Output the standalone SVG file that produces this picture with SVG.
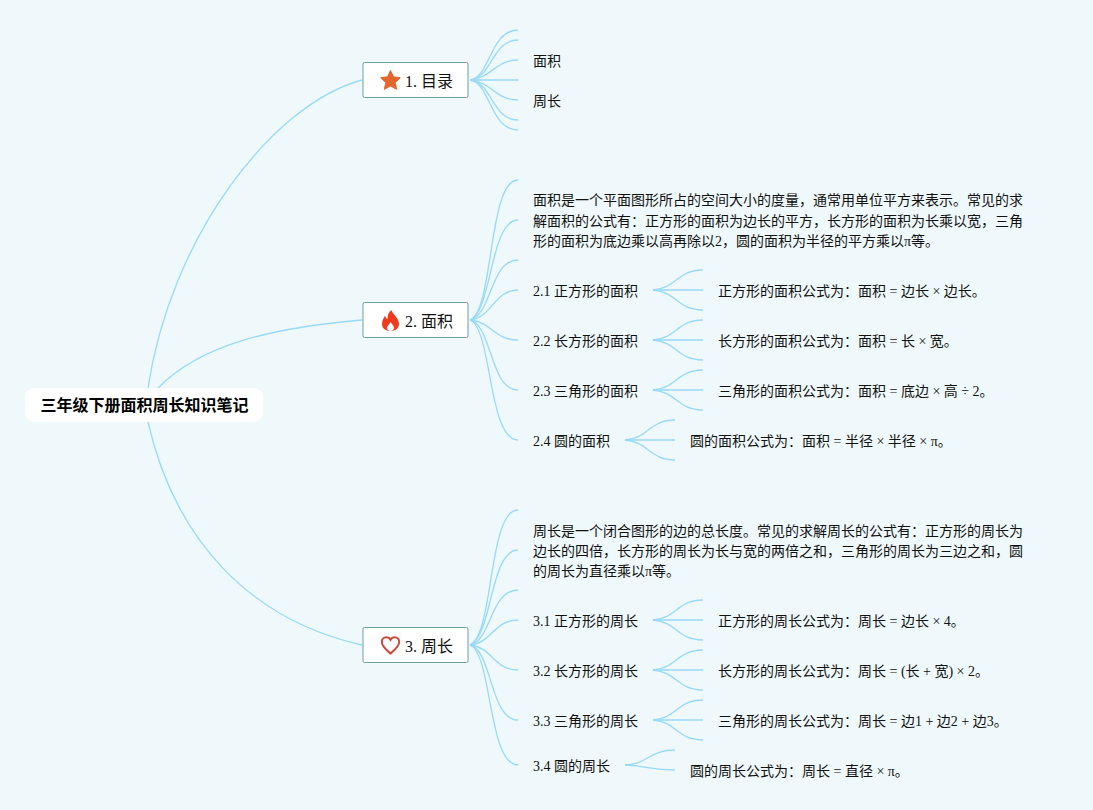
<svg xmlns="http://www.w3.org/2000/svg" width="1093" height="810" viewBox="0 0 1093 810">
<defs>
<style>
text{font-family:"Liberation Serif","Noto Sans CJK SC",serif;font-size:14px;fill:#111}
.t{font-size:16px}
.r{font-family:"Liberation Sans","Noto Sans CJK SC",sans-serif;font-size:16px;font-weight:700;fill:#000}
.c path{fill:none;stroke:#98daf6;stroke-width:1.3}
.box{fill:#fff;stroke:#6f9f9f;stroke-width:1}
</style>
</defs>
<rect width="1093" height="810" fill="#eff8fb"/>
<g id="connectors" class="c">
<path d="M148 388C170 240 270 105 362 80"/>
<path d="M158 388C200 345 270 328 362 320"/>
<path d="M148 422C175 540 250 620 362 645"/>
<path d="M470 80C490 78 490 30 518 30"/>
<path d="M470 80C492 78 492 40 518 40"/>
<path d="M470 80C492 78 495 60 518 60"/>
<path d="M470 80H518"/>
<path d="M470 80C492 82 495 100 518 100"/>
<path d="M470 80C492 82 492 120 518 120"/>
<path d="M470 80C490 82 490 130 518 130"/>
<path d="M470 320C494 310 488 180 518 180"/>
<path d="M470 320C492 312 490 220 518 220"/>
<path d="M470 320C492 315 490 260 518 260"/>
<path d="M470 320C492 318 494 290 518 290"/>
<path d="M470 320C492 322 494 340 518 340"/>
<path d="M470 320C492 325 490 390 518 390"/>
<path d="M470 320C492 328 488 440 518 440"/>
<path d="M470 645C494 635 488 510 518 510"/>
<path d="M470 645C492 637 490 550 518 550"/>
<path d="M470 645C492 640 490 590 518 590"/>
<path d="M470 645C492 643 494 620 518 620"/>
<path d="M470 645C492 647 494 670 518 670"/>
<path d="M470 645C492 650 490 720 518 720"/>
<path d="M470 645C492 653 488 765 518 765"/>
<path d="M653 290C677 288 677 270 703 270"/><path d="M653 290H703"/><path d="M653 290C677 292 677 310 703 310"/>
<path d="M653 340C677 338 677 320 703 320"/><path d="M653 340H703"/><path d="M653 340C677 342 677 360 703 360"/>
<path d="M653 390C677 388 677 370 703 370"/><path d="M653 390H703"/><path d="M653 390C677 392 677 410 703 410"/>
<path d="M625 440C649 438 649 420 675 420"/><path d="M625 440H675"/><path d="M625 440C649 442 649 460 675 460"/>
<path d="M653 620C677 618 677 600 703 600"/><path d="M653 620H703"/><path d="M653 620C677 622 677 640 703 640"/>
<path d="M653 670C677 668 677 650 703 650"/><path d="M653 670H703"/><path d="M653 670C677 672 677 690 703 690"/>
<path d="M653 720C677 718 677 700 703 700"/><path d="M653 720H703"/><path d="M653 720C677 722 677 740 703 740"/>
<path d="M625 765C649 764 649 750 675 750"/><path d="M625 765C649 766 649 770 675 770"/>
</g>
<g id="root"><rect x="25" y="388" width="238" height="34" rx="9" fill="#fff"/><text class="r" x="40.500" y="411">三年级下册面积周长知识笔记</text></g>
<g id="topic1"><rect class="box" x="363" y="62.500" width="105" height="35" rx="1.500"/><path d="M390.500 70.500l3 6.300 6.800.9-5 4.800 1.300 6.800-6.100-3.300-6.100 3.300 1.300-6.800-5-4.800 6.800-.9z" fill="#e2672f" stroke="#e2672f" stroke-linejoin="round"/><text class="t" x="405" y="87">1. 目录</text></g>
<g id="topic2"><rect class="box" x="363" y="302.500" width="105" height="35" rx="1.500"/><path d="M391.500 310c.5 4 7.500 7.500 7.500 14c0 4.500-4 7-8.500 7s-8.500-2.500-8.500-7c0-4 2-6 3-8.500c.5 2 1 3 2.500 3.500c0-4 1-7 4-9z" fill="#f0391d"/><path d="M390.500 331c-2.200 0-3.500-1.500-3.500-3.200c0-2 2.500-3.300 3.500-5.800c1.500 2 3.500 3.800 3.500 5.800c0 1.700-1.300 3.200-3.500 3.200z" fill="#fff"/><text class="t" x="405" y="327">2. 面积</text></g>
<g id="topic3"><rect class="box" x="363" y="627.500" width="105" height="35" rx="1.500"/><path d="M390.500 653.500c-4-3.500-8.700-7-8.700-11.500c0-3 2.200-4.700 4.500-4.700c1.800 0 3.400 1 4.200 2.500c.8-1.500 2.400-2.500 4.200-2.500c2.300 0 4.500 1.700 4.500 4.700c0 4.500-4.700 8-8.700 11.500z" fill="none" stroke="#cb4a37" stroke-width="2"/><text class="t" x="405" y="652">3. 周长</text></g>
<g id="n11"><text x="533" y="66">面积</text></g>
<g id="n12"><text x="533" y="106">周长</text></g>
<g id="n20"><text x="533" y="205">面积是一个平面图形所占的空间大小的度量，通常用单位平方来表示。常见的求</text><text x="533" y="226">解面积的公式有：正方形的面积为边长的平方，长方形的面积为长乘以宽，三角</text><text x="533" y="246">形的面积为底边乘以高再除以2，圆的面积为半径的平方乘以π等。</text></g>
<g id="n21"><text x="533" y="296">2.1 正方形的面积</text></g>
<g id="n21a"><text x="718" y="296">正方形的面积公式为：面积 = 边长 × 边长。</text></g>
<g id="n22"><text x="533" y="346">2.2 长方形的面积</text></g>
<g id="n22a"><text x="718" y="346">长方形的面积公式为：面积 = 长 × 宽。</text></g>
<g id="n23"><text x="533" y="396">2.3 三角形的面积</text></g>
<g id="n23a"><text x="718" y="396">三角形的面积公式为：面积 = 底边 × 高 ÷ 2。</text></g>
<g id="n24"><text x="533" y="446">2.4 圆的面积</text></g>
<g id="n24a"><text x="690" y="446">圆的面积公式为：面积 = 半径 × 半径 × π。</text></g>
<g id="n30"><text x="533" y="536">周长是一个闭合图形的边的总长度。常见的求解周长的公式有：正方形的周长为</text><text x="533" y="556">边长的四倍，长方形的周长为长与宽的两倍之和，三角形的周长为三边之和，圆</text><text x="533" y="576">的周长为直径乘以π等。</text></g>
<g id="n31"><text x="533" y="626">3.1 正方形的周长</text></g>
<g id="n31a"><text x="718" y="626">正方形的周长公式为：周长 = 边长 × 4。</text></g>
<g id="n32"><text x="533" y="676">3.2 长方形的周长</text></g>
<g id="n32a"><text x="718" y="676">长方形的周长公式为：周长 = (长 + 宽) × 2。</text></g>
<g id="n33"><text x="533" y="726">3.3 三角形的周长</text></g>
<g id="n33a"><text x="718" y="726">三角形的周长公式为：周长 = 边1 + 边2 + 边3。</text></g>
<g id="n34"><text x="533" y="771">3.4 圆的周长</text></g>
<g id="n34a"><text x="690" y="776">圆的周长公式为：周长 = 直径 × π。</text></g>
</svg>
